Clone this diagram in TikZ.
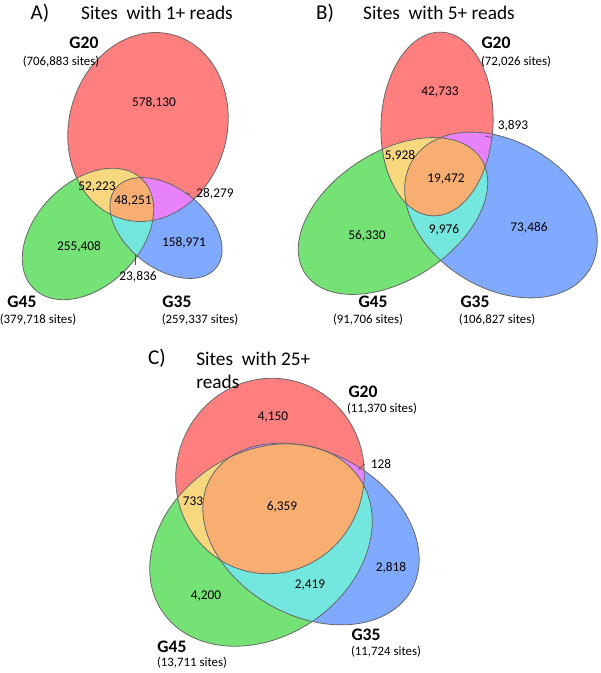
\documentclass[tikz,border=0pt]{standalone}
\usepackage{fontspec}
\setmainfont{Carlito}
\usepackage{tikz}
\usetikzlibrary{calc}
\definecolor{vennRed}{RGB}{255, 127, 127}
\definecolor{vennGreen}{RGB}{117, 226, 117}
\definecolor{vennBlue}{RGB}{128, 170, 255}
\definecolor{vennYellow}{RGB}{247, 216, 127}
\definecolor{vennMagenta}{RGB}{232, 130, 250}
\definecolor{vennCyan}{RGB}{115, 230, 222}
\definecolor{vennOrange}{RGB}{248, 174, 112}
\tikzset{
  rim/.style={draw=black!60, line width=0.45pt},
  lead/.style={draw=black!70, line width=0.35pt},
  num/.style={font=\fontsize{7.6}{9}\selectfont},
  grp/.style={font=\fontsize{10}{12}\selectfont\bfseries},
  cnt/.style={font=\fontsize{7.3}{9}\selectfont},
  ttl/.style={font=\fontsize{11}{13.6}\selectfont},
}
% #1 = G20, #2 = G45, #3 = G35
\newcommand{\venn}[3]{%
  \fill[vennRed] #1; \fill[vennGreen] #2; \fill[vennBlue] #3;
  \begin{scope} \clip #1; \fill[vennYellow] #2; \fill[vennMagenta] #3; \end{scope}
  \begin{scope} \clip #2; \fill[vennCyan] #3; \end{scope}
  \begin{scope} \clip #1; \clip #2; \fill[vennOrange] #3; \end{scope}
  \draw[rim] #1; \draw[rim] #2; \draw[rim] #3;}

\begin{document}
\begin{tikzpicture}[x=0.02cm, y=-0.02cm]

  \useasboundingbox (0, 0) rectangle (600, 673);

  % A) 1+ reads
  \venn{[rotate around={75:(148,127)}] (148,127) ellipse (95.5 and 79)}
       {[rotate around={45:(88,234)}] (88,234) ellipse (77 and 52)}
       {[rotate around={-38:(166,228)}] (166,228) ellipse (64 and 40)}
  \node[ttl, font=\fontsize{12}{14}\selectfont] (labA) at (40, 13) {A)};
  \node[ttl] (ttlA) at (157, 13) {Sites\ \ with 1+ reads};
  \node[grp] (g20A) at (84, 43) {G20};
  \node[cnt] (c20A) at (61, 62) {(706,883 sites)};
  \node[grp] (g45A) at (22, 302) {G45};
  \node[cnt] (c45A) at (38, 320) {(379,718 sites)};
  \node[grp] (g35A) at (177, 302) {G35};
  \node[cnt] (c35A) at (200, 320) {(259,337 sites)};
  \node[num] (nA20) at (154, 103) {578,130};
  \node[num] (nA2045) at (97, 187) {52,223};
  \node[num] (nAall) at (133, 201) {48,251};
  \node[num] (nA2035) at (215, 194) {28,279};
  \node[num] (nA45) at (79, 247) {255,408};
  \node[num] (nA35) at (184, 243) {158,971};
  \node[num] (nA4535) at (138, 277) {23,836};
  \coordinate (pA2035) at (186, 193);
  \coordinate (pA4535) at (135, 254);
  \draw[lead] (pA2035) -- (nA2035.west);
  \draw[lead] (pA4535) -- (pA4535 |- nA4535.north);

  % B) 5+ reads
  \venn{[rotate around={87:(437,124)}] (437,124) ellipse (92 and 56)}
       {[rotate around={33:(393,216)}] (393,216) ellipse (105 and 64)}
       {[rotate around={-32:(501,215)}] (501,215) ellipse (104 and 73)}
  \node[ttl, font=\fontsize{12}{14}\selectfont] (labB) at (325, 13) {B)};
  \node[ttl] (ttlB) at (439, 13) {Sites\ \ with 5+ reads};
  \node[grp] (g20B) at (496, 43) {G20};
  \node[cnt] (c20B) at (516, 62) {(72,026 sites)};
  \node[grp] (g45B) at (373, 302) {G45};
  \node[cnt] (c45B) at (368, 320) {(91,706 sites)};
  \node[grp] (g35B) at (475, 302) {G35};
  \node[cnt] (c35B) at (497, 320) {(106,827 sites)};
  \node[num] (nB20) at (440, 92) {42,733};
  \node[num] (nB2045) at (400, 156) {5,928};
  \node[num] (nBall) at (446, 179) {19,472};
  \node[num] (nB2035) at (513, 126) {3,893};
  \node[num] (nB45) at (367, 236) {56,330};
  \node[num] (nB4535) at (444, 230) {9,976};
  \node[num] (nB35) at (529, 228) {73,486};
  \coordinate (pB2035) at (485, 136);
  \draw[lead] (pB2035) -- (nB2035.south west);

  % C) 25+ reads
  \venn{[rotate around={75:(270,476)}] (270,476) ellipse (98 and 94)}
       {[rotate around={34:(261,545)}] (261,545) ellipse (119 and 92)}
       {[rotate around={-29:(311,534)}] (311,534) ellipse (115 and 82)}
  \node[ttl, font=\fontsize{12}{14}\selectfont] (labC) at (157, 358) {C)};
  \node[ttl, anchor=base west, inner sep=0pt] (ttlC) at (196, 365) {Sites\ \ with 25+};
  \node[ttl, anchor=base west, inner sep=0pt] (ttlC2) at (196, 388) {reads};
  \node[grp] (g20C) at (363, 392) {G20};
  \node[cnt] (c20C) at (382, 409) {(11,370 sites)};
  \node[grp] (g45C) at (172, 647) {G45};
  \node[cnt] (c45C) at (192, 663) {(13,711 sites)};
  \node[grp] (g35C) at (366, 635) {G35};
  \node[cnt] (c35C) at (386, 652) {(11,724 sites)};
  \node[num] (nC20) at (273, 417) {4,150};
  \node[num] (nC2045) at (193, 501) {733};
  \node[num] (nCall) at (282, 507) {6,359};
  \node[num] (nC2035) at (381, 464) {128};
  \node[num] (nC35) at (391, 568) {2,818};
  \node[num] (nC4535) at (310, 585) {2,419};
  \node[num] (nC45) at (206, 596) {4,200};
  \coordinate (pC2035) at (358, 470);
  \draw[lead] (pC2035) -- (nC2035.west);

\end{tikzpicture}
\end{document}
